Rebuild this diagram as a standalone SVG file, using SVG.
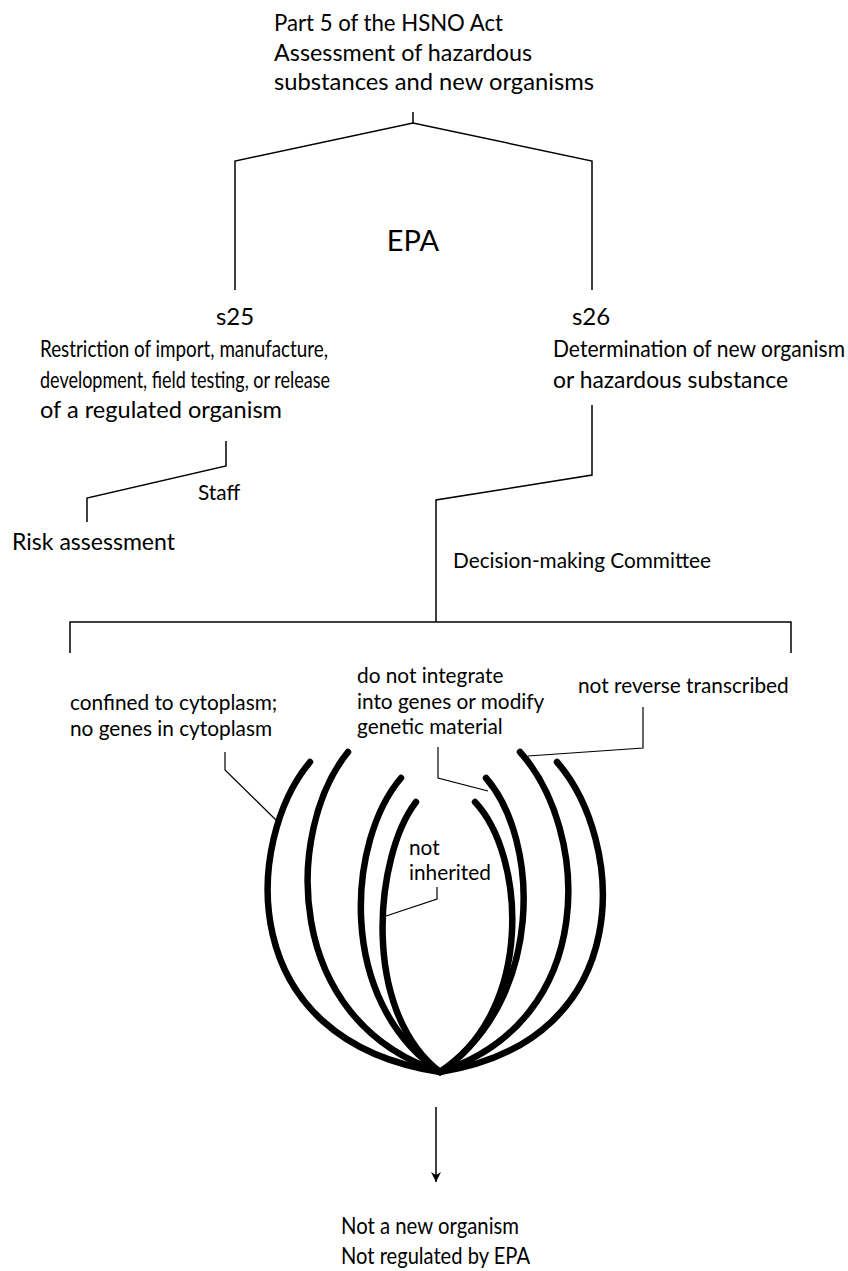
<svg xmlns="http://www.w3.org/2000/svg" width="848" height="1271" viewBox="0 0 848 1271">
<style>
text{font-family:Lato,"Open Sans","Liberation Sans",sans-serif;fill:#000}
.t24{font-size:24px}
.t21{font-size:20.8px}
.ln{fill:none;stroke:#000;stroke-width:1.5}
.ld{fill:none;stroke:#000;stroke-width:1.2}
.arc{fill:none;stroke:#000;stroke-width:6.5;stroke-linecap:round}
</style>
<defs>
<marker id="ah" viewBox="0 0 10 10" refX="10" refY="5" markerWidth="10" markerHeight="10" orient="auto" markerUnits="userSpaceOnUse">
<path d="M0,0 L10,5 L0,10 L3,5 Z" fill="#000"/>
</marker>
</defs>
<rect width="848" height="1271" fill="#fff"/>

<g id="connectors">
<path class="ln" d="M413,112 V123 M235,290 V161 L413,123 L592,161 V290"/>
<path class="ln" d="M226,441 V466 L87,498 V522"/>
<path class="ln" d="M592,405 V475 L436,500 V622"/>
<path class="ln" d="M70,653 V622 H791 V653"/>
<path class="ln" d="M436,1107 V1182" marker-end="url(#ah)"/>
</g>

<g id="n-top">
<text class="t24" x="274" y="31" textLength="229" lengthAdjust="spacingAndGlyphs">Part 5 of the HSNO Act</text>
<text class="t24" x="274" y="61" textLength="258" lengthAdjust="spacingAndGlyphs">Assessment of hazardous</text>
<text class="t24" x="274" y="90" textLength="320" lengthAdjust="spacingAndGlyphs">substances and new organisms</text>
</g>
<g id="n-epa"><text x="413" y="251" font-size="29" text-anchor="middle">EPA</text></g>
<g id="n-s25">
<text class="t24" x="235" y="325" text-anchor="middle">s25</text>
<text class="t24" x="40" y="357" textLength="288" lengthAdjust="spacingAndGlyphs">Restriction of import, manufacture,</text>
<text class="t24" x="40" y="388" textLength="290" lengthAdjust="spacingAndGlyphs">development, field testing, or release</text>
<text class="t24" x="40" y="418" textLength="242" lengthAdjust="spacingAndGlyphs">of a regulated organism</text>
</g>
<g id="n-s26">
<text class="t24" x="591" y="325" text-anchor="middle">s26</text>
<text class="t24" x="553" y="357" textLength="292" lengthAdjust="spacingAndGlyphs">Determination of new organism</text>
<text class="t24" x="553" y="388" textLength="235" lengthAdjust="spacingAndGlyphs">or hazardous substance</text>
</g>
<g id="n-staff"><text class="t21" x="198" y="500">Staff</text></g>
<g id="n-risk"><text class="t24" x="12" y="550" textLength="163" lengthAdjust="spacingAndGlyphs">Risk assessment</text></g>
<g id="n-dmc"><text class="t21" x="453" y="568" textLength="258" lengthAdjust="spacingAndGlyphs">Decision-making Committee</text></g>

<g id="n-arcs">
<path class="arc" d="M310,762 C245,840 232,1040 440,1072"/>
<path class="arc" d="M348,752 C285,830 282,1020 440,1072"/>
<path class="arc" d="M401,778 C348,840 335,1000 440,1072"/>
<path class="arc" d="M416,802 C375,855 360,1010 440,1072"/>
<path class="arc" d="M475,802 C525,855 535,1010 440,1072"/>
<path class="arc" d="M486,778 C540,840 545,1000 440,1072"/>
<path class="arc" d="M520,752 C590,830 600,1020 440,1072"/>
<path class="arc" d="M557,762 C625,840 640,1040 440,1072"/>
</g>

<g id="n-confined">
<text class="t21" x="70" y="710">confined to cytoplasm;</text>
<text class="t21" x="70" y="736">no genes in cytoplasm</text>
<path class="ld" d="M225,752 V770 L277,821"/>
</g>
<g id="n-integrate">
<text class="t21" x="357" y="683">do not integrate</text>
<text class="t21" x="357" y="709">into genes or modify</text>
<text class="t21" x="357" y="734">genetic material</text>
<path class="ld" d="M438,747 V778 L488,791"/>
</g>
<g id="n-reverse">
<text class="t21" x="578" y="693">not reverse transcribed</text>
<path class="ld" d="M643,707 V748 L528,756"/>
</g>
<g id="n-inherited">
<text class="t21" x="409" y="855">not</text>
<text class="t21" x="409" y="880">inherited</text>
<path class="ld" d="M437,887 V899 L383,917"/>
</g>

<g id="n-bottom">
<text class="t24" x="341" y="1234" textLength="178" lengthAdjust="spacingAndGlyphs">Not a new organism</text>
<text class="t24" x="341" y="1264" textLength="189" lengthAdjust="spacingAndGlyphs">Not regulated by EPA</text>
</g>
</svg>
